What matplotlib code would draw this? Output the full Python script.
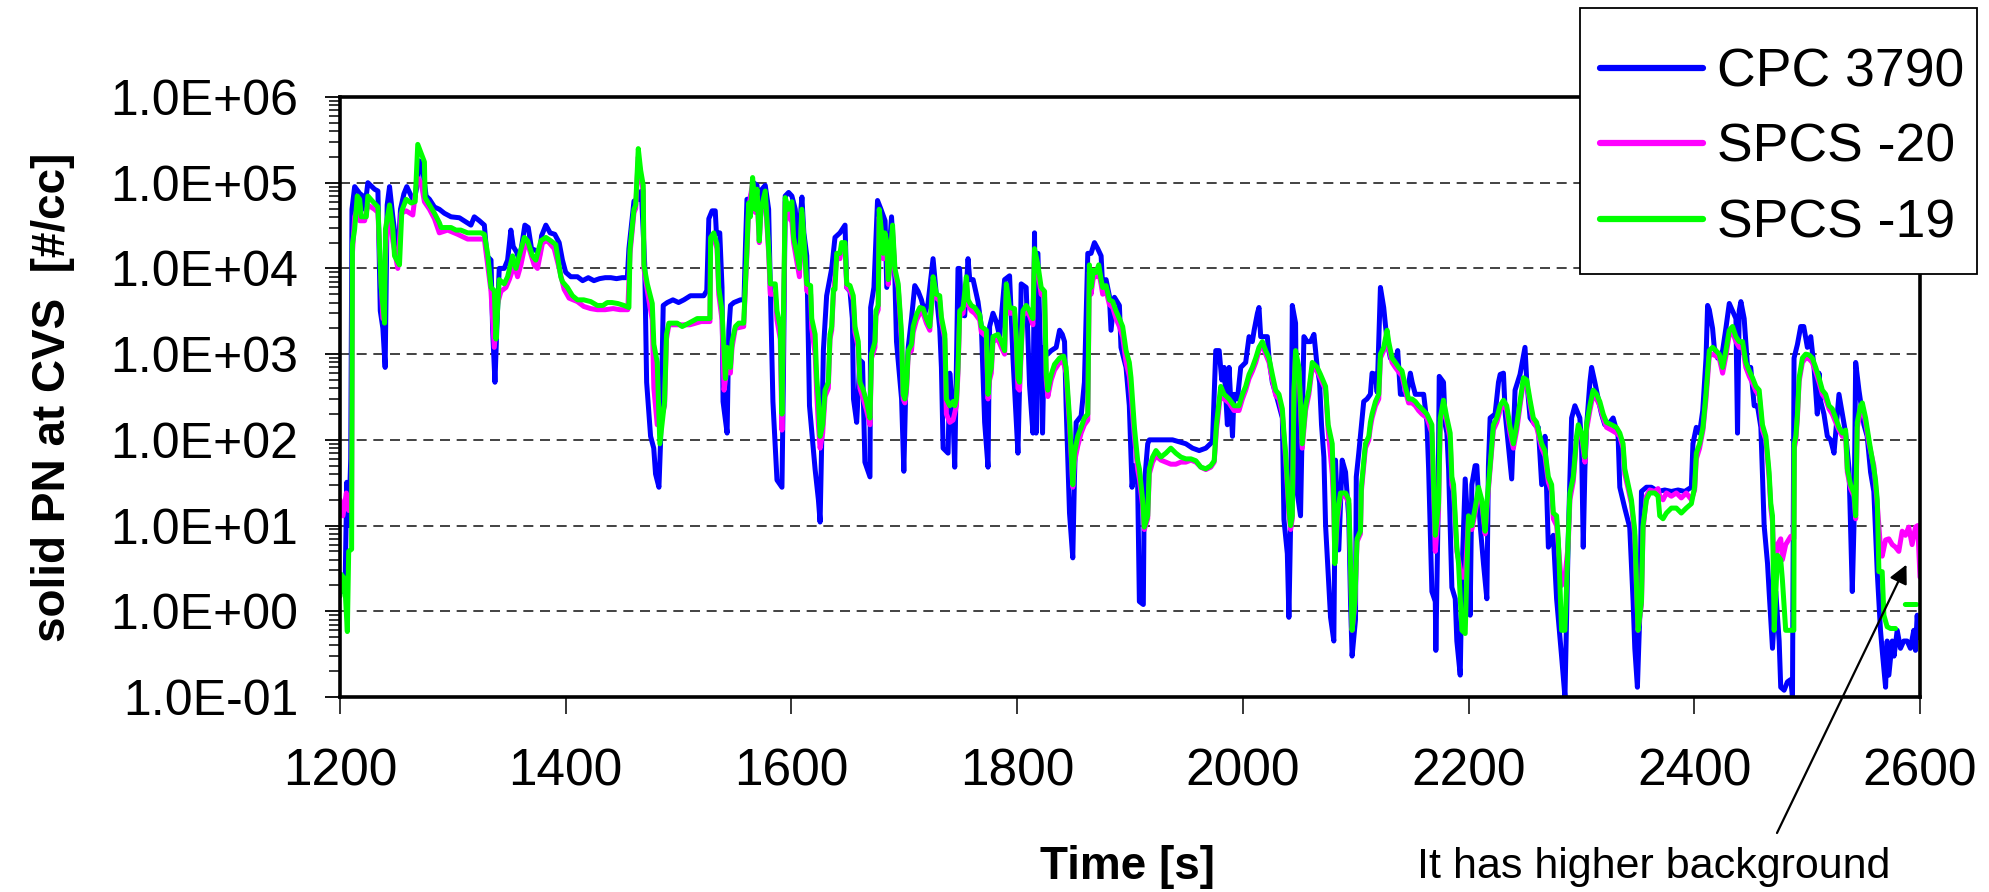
import numpy as np
import matplotlib
matplotlib.use("Agg")
import matplotlib.pyplot as plt
from matplotlib.patches import Rectangle
from matplotlib.lines import Line2D

plt.rcParams['font.family'] = ['Liberation Sans', 'DejaVu Sans']

# ---------------- data ----------------
series_labels = ["CPC 3790", "SPCS -20", "SPCS -19"]
series_colors = ["#0000FF", "#FF00FF", "#00FF00"]
x_ticks = [1200, 1400, 1600, 1800, 2000, 2200, 2400, 2600]
y_ticks = [1e-1, 1e0, 1e1, 1e2, 1e3, 1e4, 1e5, 1e6]

cpc_t = [1200, 1202.6, 1204.7, 1206, 1207.7, 1209.5, 1210.6, 1213, 1217.4, 1220.3, 1221.8, 1224.7, 1230.6, 1233.6,
         1235.7, 1238, 1240, 1241.8, 1243.9, 1246.8, 1249.8, 1251.9, 1253.6, 1256.6, 1259.2, 1262.2, 1265.4, 1268.4,
         1270.4, 1273.4, 1276.3, 1279.3, 1283.7, 1288, 1292.5, 1298.4, 1305.8, 1310, 1316, 1319, 1323.5, 1327.9,
         1330.2, 1333.8, 1335.2, 1337.3, 1339, 1341.1, 1345.5, 1348.5, 1351.4, 1353.5, 1356.5, 1358.8, 1360.9, 1363.8,
         1366.8, 1369.7, 1374.4, 1376.8, 1378.6, 1382.4, 1386.2, 1390.3, 1394.2, 1397.1, 1400, 1404.5, 1410.4,
         1415, 1420, 1425, 1430, 1435, 1440, 1445, 1450, 1454.6, 1456, 1460.5, 1465, 1467, 1470, 1471.7, 1475.2,
         1478, 1479.6, 1482.6, 1484, 1486.4, 1490, 1495, 1500, 1504.7, 1510.5, 1522.3, 1525, 1526.8, 1529.7, 1532.5,
         1533.5, 1536.5, 1538.5, 1539.4, 1543, 1544.5, 1546, 1549, 1554.8, 1558, 1559.2, 1560.6, 1563.6, 1566.5,
         1569.5, 1572.4, 1573.9, 1576.8, 1579.8, 1581.3, 1583.6, 1587.2, 1590.1, 1591.6, 1593, 1594.5, 1597.5,
         1600.4, 1603.4, 1605.5, 1609.3, 1611, 1613.6, 1616, 1621, 1623.9, 1625.4, 1626.8, 1628.3, 1631.2, 1635.7,
         1638.6, 1643, 1647.5, 1649, 1651.9, 1654, 1655, 1657.8, 1660.7, 1663, 1665.1, 1669.6, 1670.2, 1673.1,
         1676.3, 1679.3, 1683, 1684.5, 1688.7, 1691.7, 1693.1, 1697.6, 1699.6, 1701.1, 1703.5, 1706.4, 1709.3,
         1712.3, 1715.2, 1718.2, 1721, 1725.5, 1728.5, 1731.4, 1732.9, 1734.4, 1738.8, 1740.3, 1743.2, 1744.7,
         1747.6, 1749, 1750.6, 1753.5, 1756.5, 1758, 1761, 1765.3, 1768.3, 1771.2, 1774.2, 1775.6, 1778.6, 1781.5,
         1784.5, 1788.9, 1793.3, 1796.3, 1800.7, 1802.1, 1803.6, 1808, 1811, 1814, 1815.4, 1816.8, 1818.4, 1820.5,
         1822.5, 1824, 1827, 1830.2, 1834.6, 1837.6, 1840, 1842, 1843.4, 1846.4, 1849.3, 1850.8, 1852.3, 1856.7,
         1859.6, 1862.6, 1865.5, 1868.5, 1871.4, 1874.4, 1875.8, 1878.8, 1881.7, 1883.2, 1886.2, 1890.6, 1892,
         1896.5, 1899.4, 1901.8, 1903.9, 1906.8, 1908.3, 1911.8, 1912.7, 1915.7, 1917.1, 1923, 1931.8, 1937.7,
         1943.6, 1949.5, 1955.4, 1961.3, 1967.2, 1973.1, 1976, 1979, 1981.3, 1983.4, 1986.3, 1987.8, 1990.8, 1992.2,
         1995.2, 1998.1, 2002.5, 2005.5, 2008.4, 2010, 2012.9, 2014.3, 2015.8, 2021.7, 2023.2, 2026.1, 2030.5, 2035,
         2036.4, 2039.4, 2040.8, 2042.3, 2043.8, 2046.7, 2048.2, 2051.1, 2054.1, 2057, 2060, 2063, 2065.9, 2068,
         2069.7, 2071.8, 2073.3, 2077.7, 2080.6, 2082.1, 2085, 2088, 2091, 2093.9, 2095.4, 2096.8, 2099.8, 2100.5,
         2102.7, 2107.1, 2110, 2113, 2114.5, 2117.5, 2119, 2121.9, 2124.8, 2127.8, 2130.7, 2135.1, 2137.2, 2139.6,
         2145.4, 2148.4, 2150, 2152.8, 2160.2, 2163.1, 2164.6, 2167.5, 2170.5, 2171, 2172.8, 2174, 2177.8, 2179.3,
         2180.8, 2182.3, 2185.2, 2188.2, 2189.6, 2192.6, 2194.1, 2197, 2199.9, 2201.4, 2202.9, 2205.8, 2207.3,
         2210.3, 2213.2, 2216.2, 2217.6, 2219.1, 2223.5, 2226.5, 2228, 2230.9, 2232.5, 2238.2, 2241.2, 2245.6, 2250,
         2251.5, 2254.5, 2258.9, 2261.8, 2264.8, 2267.7, 2270.7, 2275.1, 2278, 2282.4, 2285.4, 2288.3, 2291.3,
         2294.2, 2298.6, 2300.1, 2301.6, 2303.1, 2304.5, 2307.5, 2309, 2311.9, 2314.9, 2317.8, 2320.7, 2325.2,
         2328.1, 2332.5, 2334, 2338.4, 2342.8, 2345.8, 2347.3, 2349.6, 2351.7, 2353.2, 2357.6, 2362, 2367.9, 2373.8,
         2379.7, 2385.6, 2391.5, 2397.4, 2398.8, 2401.8, 2404.7, 2407.5, 2410.4, 2411.8, 2413.3, 2416.2, 2417.7,
         2420.7, 2422, 2425.1, 2428, 2431, 2433.9, 2436.9, 2438.3, 2439.8, 2441.3, 2444.2, 2447.2, 2450, 2453.1,
         2456, 2459, 2461.9, 2464.9, 2466.3, 2469.3, 2472.2, 2475.2, 2476.6, 2479.6, 2482.5, 2485.5, 2487, 2488.4,
         2491.4, 2494.3, 2497, 2500.2, 2503.2, 2506.1, 2509, 2510.5, 2512, 2514.9, 2517.9, 2520.8, 2523.8, 2528.2,
         2531.2, 2534.1, 2537.1, 2540, 2541.5, 2543, 2545.9, 2550.3, 2553.2, 2556.2, 2559.1, 2562.1, 2565, 2566.5,
         2569.5, 2570.9, 2572.4, 2575.4, 2577, 2579.8, 2582.7, 2585.6, 2588.6, 2591.5, 2594.5, 2596, 2597.5, 2599,
         2600]
cpc_v = [2.7, 1.7, 2.8, 32, 10, 60, 4.9e4, 9e4, 7.5e4, 7e4, 4.9e4, 1e5, 8.4e4, 8e4,
         3.2e3, 2e3, 7e2, 5.5e4, 9e4, 4e4, 1.9e4, 1.8e4, 4.9e4, 7.4e4, 9e4, 7.4e4, 6e4, 9.3e4,
         1.8e5, 1.4e5, 7e4, 6.4e4, 5.2e4, 4.9e4, 4.4e4, 4e4, 3.9e4, 3.6e4, 3.2e4, 4e4, 3.6e4, 3.2e4,
         1.4e4, 1.25e4, 2e3, 4.7e2, 2.1e3, 1e4, 1e4, 1.25e4, 2.8e4, 1.8e4, 1.55e4, 1.25e4, 1.8e4, 3.2e4,
         3e4, 1.7e4, 1.6e4, 1.4e4, 2.4e4, 3.2e4, 2.6e4, 2.5e4, 2e4, 1.25e4, 9e3, 8e3, 8e3,
         7.2e3, 7.8e3, 7.2e3, 7.6e3, 7.8e3, 7.8e3, 7.6e3, 7.8e3, 7.8e3, 1.7e4, 6.1e4, 6.5e4, 8e4, 1.1e4, 4.7e2, 1.1e2,
         80, 40, 28, 90, 3.7e3, 4e3, 4.3e3, 4e3, 4.3e3, 4.8e3, 4.8e3, 5.5e3, 3.8e4, 4.7e4, 4.7e4,
         2.6e4, 2.6e4, 6e3, 2.8e2, 1.2e2, 1.9e3, 3.7e3, 4e3, 4.3e3, 4.3e3, 1.7e4, 6.4e4, 6.5e4, 1e5,
         9.3e4, 3.6e4, 8.4e4, 9.3e4, 4.9e4, 6e3, 2.8e2, 34, 30, 28, 7e2, 7e4, 7.7e4,
         7e4, 4.9e4, 1.7e4, 6.8e4, 2.6e4, 1.4e4, 2.5e2, 45, 20, 11, 90, 1.1e3, 4.8e3, 1e4,
         2.3e4, 2.6e4, 3.2e4, 6e3, 5.4e3, 2.6e3, 3e2, 1.6e2, 8.5e2, 8e2, 55, 37, 3.5e3, 6e3,
         6.2e4, 4.9e4, 3.6e4, 6e3, 4e4, 7.4e3, 1.4e3, 3e2, 43, 3e2, 1.2e3, 2.6e3, 6.3e3,
         5.4e3, 4.3e3, 3e3, 3.9e3, 1.3e4, 4.8e3, 2e3, 7e2, 80, 70, 6e2, 1.8e2, 48,
         1e4, 1e4, 2.9e3, 2.8e3, 1.3e4, 7.4e3, 7.4e3, 4.1e3, 2.1e3, 1.6e2, 48, 2.1e3, 3e3, 2.4e3,
         1.6e3, 7.4e3, 8.2e3, 9e2, 70, 4e2, 6.6e3, 6e3, 4.3e2, 1.2e2, 2.6e4, 1.2e2, 1.5e4, 1.2e3,
         1.2e2, 1.2e3, 1e3, 1.1e3, 1.2e3, 1.9e3, 1.7e3, 1.4e3, 2.5e2, 14, 4.2, 37, 1.6e2, 1.9e2,
         4.7e2, 1.5e4, 1.5e4, 2e4, 1.7e4, 1.4e4, 6e3, 7.4e3, 4.8e3, 1.9e3, 4.6e3, 3.7e3, 1.2e3,
         7e2, 2.5e2, 28, 50, 30, 1.3, 1.2, 30, 90, 1e2, 1e2, 1e2, 1e2,
         95, 90, 80, 75, 80, 95, 1.1e3, 1.1e3, 5e2, 7e2, 1.5e2, 7e2, 1.1e2, 3.4e2,
         3e2, 7e2, 8e2, 1.6e3, 1.4e3, 1.9e3, 3e3, 3.5e3, 1.6e3, 1.6e3, 9e2, 4.7e2, 3e2, 1.8e2,
         11.8, 4.7, 0.85, 10, 3.7e3, 2.3e3, 24, 13, 1.6e3, 1.4e3, 1.4e3, 1.7e3, 7e2, 4.7e2,
         1.5e2, 63, 10, 0.85, 0.45, 58, 5.2, 58, 42, 12, 1.3, 0.3, 0.8, 37,
         70, 2.8e2, 3e2, 3.4e2, 6e2, 5.8e2, 3.6e2, 6e3, 3.5e3, 1.4e3, 9e2, 8e2, 1.1e3, 3.4e2,
         3.4e2, 6e2, 4.7e2, 3.4e2, 3.4e2, 1.6e2, 46, 1.7, 1.3, 0.35, 10, 5.5e2, 4.7e2, 1.5e2,
         1.2e2, 46, 1.9, 1.4, 0.45, 0.18, 2.5, 35, 7.7, 0.9, 30, 50, 50,
         10, 3.6, 1.4, 50, 1.8e2, 2e2, 4.7e2, 5.8e2, 6e2, 2e2, 35, 3.8e2, 5.8e2, 1.2e3,
         5e2, 1.8e2, 1.5e2, 1.4e2, 30, 1.1e2, 5.6, 7.7, 1.4, 0.3, 0.1, 7, 1.8e2,
         2.5e2, 1.8e2, 90, 5.6, 46, 1.4e2, 4.7e2, 7e2, 4.7e2, 3e2, 2e2, 1.5e2, 1.6e2,
         1.8e2, 1.1e2, 28, 16, 9.5, 1.3, 0.37, 0.13, 0.9, 25, 28, 28, 25, 26,
         25, 26, 25, 28, 90, 1.4e2, 1.2e2, 2.2e2, 9e2, 3.7e3, 3.3e3, 2e3, 1.2e3,
         9e2, 9e2, 1.1e3, 2e3, 3.9e3, 3.2e3, 2.6e3, 1.2e2, 3.2e3, 4.1e3, 2.6e3, 7e2, 7e2, 2.5e2,
         2.5e2, 1.4e2, 10, 3.6, 1.7, 0.37, 1.7, 0.45, 0.13, 0.12, 0.15, 0.16, 0.1, 9e2,
         1.3e3, 2.1e3, 2.1e3, 1.2e3, 1.6e3, 7e2, 2e2, 6e2, 2.8e2, 2e2, 1.1e2, 1e2, 70, 3.4e2,
         2e2, 1.2e2, 46, 1.7, 10, 8e2, 3.8e2, 1.5e2, 1.1e2, 42, 25, 2.9, 0.6, 0.35,
         0.13, 0.45, 0.18, 0.45, 0.3, 0.6, 0.37, 0.45, 0.45, 0.37, 0.6, 0.35, 0.9, 0.5,
         0.6]

s20_t = [1200, 1202.6, 1205.6, 1207.7, 1210.3, 1211, 1213, 1215.3, 1217.4, 1221.8, 1224.7, 1230.6, 1233.6, 1235,
         1238, 1241, 1243.9, 1246.8, 1251.2, 1254.2, 1258.6, 1264.5, 1268.4, 1271.9, 1274.8, 1279.3, 1283.7, 1288,
         1295.4, 1304.3, 1313.1, 1322, 1327.9, 1330.8, 1333.8, 1336.7, 1339.7, 1342.6, 1347, 1350, 1354.4, 1357.3,
         1360.3, 1364.7, 1367.6, 1372, 1375, 1379.5, 1383.9, 1389.8, 1394.2, 1398.6, 1403, 1410.4, 1416, 1422, 1428,
         1435, 1442, 1448, 1455, 1457, 1460.5, 1462, 1464.3, 1466.4, 1468.7, 1469.3, 1472.3, 1476.7, 1478.1, 1481.1,
         1483.4, 1485.5, 1487.6, 1489.3, 1491.4, 1500, 1510, 1520, 1527.8, 1528.4, 1531.2, 1534.1, 1535.6, 1538.5,
         1540.3, 1543, 1545.9, 1547.4, 1550.3, 1557.7, 1560.6, 1562.1, 1565.6, 1568, 1569.5, 1571.5, 1573, 1576.8,
         1579.8, 1581.3, 1585.7, 1587.2, 1590.1, 1591.6, 1594.5, 1597.5, 1600.4, 1601.9, 1604.8, 1607.1, 1609.2,
         1612.1, 1613.6, 1617, 1618, 1621, 1622.4, 1623.9, 1625.4, 1627.7, 1629.8, 1632.7, 1634.2, 1635.7, 1637.2,
         1640.1, 1643, 1644.5, 1647.5, 1649, 1651.9, 1654.8, 1656.3, 1659.2, 1660.7, 1663.7, 1666.6, 1669.6, 1671,
         1674, 1674.9, 1676.9, 1677.8, 1679.9, 1681.3, 1682.8, 1684.3, 1685.8, 1687.2, 1689.6, 1691.7, 1694.6,
         1697.6, 1699, 1700.5, 1702, 1703.5, 1706.4, 1707.9, 1710.8, 1713.8, 1716.7, 1719.6, 1722.6, 1724.1, 1725.5,
         1728.5, 1731.4, 1732.9, 1735.9, 1737.3, 1740.3, 1743.2, 1746.2, 1747.6, 1749.1, 1752.1, 1755, 1756.5,
         1759.4, 1762.4, 1766.8, 1768.3, 1772.7, 1774.2, 1775.6, 1777.1, 1778.6, 1783, 1786, 1788.9, 1790.4, 1793.3,
         1797.7, 1799.2, 1800.7, 1802.1, 1805.1, 1808, 1811, 1814, 1815.4, 1818.4, 1821.3, 1824.3, 1825.8, 1827.2,
         1830.2, 1833.1, 1837.6, 1841.1, 1843.4, 1846.4, 1849.3, 1850.8, 1853.7, 1856.7, 1859.6, 1862.6, 1864,
         1865.5, 1867.6, 1870, 1872.3, 1874.4, 1875.8, 1878.8, 1881.7, 1884.7, 1887.6, 1890.6, 1893.5, 1896.5,
         1899.4, 1900.9, 1903.9, 1906.8, 1908.3, 1911.2, 1912.7, 1915.7, 1917.1, 1920, 1923, 1927.4, 1931.8, 1936.2,
         1940.6, 1945.1, 1949.5, 1954, 1958.4, 1962.8, 1967.2, 1971.6, 1974.6, 1976.6, 1980.4, 1983.4, 1987.8,
         1992.2, 1996.6, 1999.6, 2002.5, 2005.5, 2008.4, 2011.4, 2014.3, 2017.3, 2020.2, 2023.2, 2026.1, 2029.1,
         2032, 2035, 2036.4, 2037.9, 2040.8, 2042.3, 2043.8, 2045.3, 2046.7, 2049.7, 2052.6, 2055.6, 2058.5, 2061.5,
         2065.9, 2068.8, 2073.3, 2075.6, 2079.2, 2080.6, 2081.5, 2083.6, 2086.5, 2091, 2093.9, 2095.4, 2096.8,
         2099.2, 2101.2, 2104.2, 2105, 2108.6, 2111.6, 2113, 2114.5, 2117.5, 2120.4, 2121.9, 2124.8, 2127.8, 2129.2,
         2132.2, 2135.1, 2138.1, 2141, 2144, 2146.9, 2149.9, 2152.8, 2155.7, 2158.7, 2163.1, 2167.5, 2169, 2170.5,
         2173.4, 2174.9, 2177.8, 2180.8, 2183.7, 2185.2, 2186.7, 2189.6, 2191.1, 2194.1, 2197, 2199.9, 2202.9,
         2205.8, 2208.8, 2211.7, 2214.7, 2216.2, 2219.1, 2222, 2225, 2227.9, 2230.9, 2233.8, 2236.8, 2239.7, 2242.7,
         2245.6, 2248.6, 2251.5, 2254.5, 2257.4, 2260.3, 2264.8, 2267.7, 2270.7, 2273.6, 2275.1, 2278, 2279.5,
         2282.4, 2285.4, 2288.3, 2289.8, 2292.8, 2295.7, 2297.2, 2300.1, 2303.1, 2304.5, 2307.5, 2310.4, 2313.4,
         2316.3, 2319.3, 2322.2, 2326.6, 2331, 2334, 2336.9, 2338.4, 2341.4, 2344.3, 2347.3, 2348.7, 2350.2, 2353.2,
         2354.6, 2357.6, 2360.5, 2365, 2367.9, 2369.4, 2372.3, 2375.3, 2379.7, 2384.1, 2388.5, 2392.9, 2397.4,
         2400.3, 2401.8, 2404.7, 2407.7, 2410.4, 2413.3, 2416.2, 2419.2, 2422.1, 2425.1, 2428, 2431, 2433.9, 2436.9,
         2439.8, 2442.8, 2445.7, 2448.7, 2451.6, 2454.6, 2457.5, 2460.4, 2463.4, 2466.3, 2467.8, 2469.3, 2470.8,
         2473.7, 2476.6, 2478.1, 2481, 2485.5, 2488.2, 2488.6, 2490, 2491.4, 2492.9, 2495.8, 2498.7, 2501.7, 2504.6,
         2507.6, 2510.5, 2513.5, 2516.4, 2519.4, 2522.3, 2525.3, 2528.2, 2531.2, 2534.1, 2535.6, 2538.5, 2541.5,
         2543, 2544.4, 2547.4, 2548.9, 2551.8, 2554.8, 2559.1, 2560.6, 2562.1, 2565, 2566.5, 2569.5, 2572.4, 2575.4,
         2578.3, 2581.2, 2584.2, 2587.1, 2590, 2593, 2596, 2598, 2600]
s20_v = [20, 13, 24, 15, 20, 1.5e4, 4e4, 5e4, 3.6e4, 3.6e4, 5.5e4, 4.9e4, 4.5e4, 1.7e4,
         2.6e3, 2.1e4, 4.9e4, 2.1e4, 1e4, 4.4e4, 4.7e4, 4.2e4, 1.15e5, 1e5, 6e4, 4.9e4, 3.8e4, 2.6e4,
         2.8e4, 2.5e4, 2.2e4, 2.2e4, 2.2e4, 1.1e4, 5.4e3, 1.2e3, 3.9e3, 5.4e3, 6e3, 7.4e3, 1.1e4, 8e3,
         1.1e4, 2.1e4, 1.7e4, 1.1e4, 1e4, 2e4, 2.1e4, 1.7e4, 1e4, 5.7e3, 4.5e3, 4.1e3, 3.6e3, 3.4e3, 3.3e3,
         3.3e3, 3.4e3, 3.3e3, 3.3e3, 1.5e4, 4.5e4, 5e4, 2e5, 1.2e5, 8e4, 1e4, 5.5e3, 2.5e3, 4e2, 1.5e2,
         1.5e2, 2e2, 2.5e2, 1.5e3, 2.2e3, 2.2e3, 2.2e3, 2.4e3, 2.4e3, 2.1e4, 2.3e4, 1.7e4, 5e3, 2.5e3,
         3.8e2, 7e2, 6e2, 1.2e3, 2e3, 2.1e3, 1.5e4, 5e4, 1e5, 4.5e4, 7e4, 2e4, 4.5e4, 7e4,
         1.5e4, 5e3, 5e3, 2.5e3, 1.5e3, 1.3e2, 6e4, 4e4, 3.5e4, 2e4, 1.2e4, 8e3, 4.5e4,
         1.2e4, 5.5e3, 5e3, 2e3, 1e3, 3.5e2, 1.5e2, 80, 1.2e2, 3.2e2, 4e2, 1.5e3, 1.9e3, 5e3,
         1.3e4, 1.3e4, 1.8e4, 1.8e4, 6e3, 5.5e3, 4.3e3, 1.8e3, 1.2e3, 4e2, 3e2, 2.2e2, 1.5e2, 9e2,
         1.2e3, 2.8e3, 3.3e3, 4e4, 1.7e4, 1.3e4, 2.3e4, 1.9e4, 6.5e3, 1e4, 2.8e4, 9e3, 6e3,
         1.5e3, 3e2, 2.7e2, 3.8e2, 1e3, 1.1e3, 1.8e3, 2.5e3, 3e3, 3e3, 2.3e3, 1.9e3, 3.5e3, 7e3,
         4.5e3, 4.2e3, 2.4e3, 1.5e3, 2e2, 1.6e2, 1.7e2, 2.5e2, 6e2, 2.8e3, 3e3, 7e3, 3.8e3,
         3.2e3, 3e3, 2.5e3, 1.8e3, 1.6e3, 3e2, 5e2, 6e2, 1.4e3, 1.5e3, 1.2e3, 1e3, 5.5e3, 3e3,
         3e3, 1.4e3, 4e2, 3.8e2, 2.8e3, 3.2e3, 2.8e3, 2.2e3, 1.5e4, 9e3, 5e3, 4.6e3, 5e2, 3.2e2,
         5e2, 6.5e2, 8e2, 8e2, 6e2, 1.5e2, 28, 55, 85, 1.2e2, 1.5e2, 1.7e2, 9e3,
         5e3, 8e3, 8e3, 9e3, 6.5e3, 5e3, 5.5e3, 3.8e3, 3.5e3, 2.6e3, 2.1e3, 1.6e3, 8e2,
         5.5e2, 3.5e2, 1.1e2, 45, 35, 17, 9, 12, 40, 55, 65, 58, 55, 52,
         52, 55, 55, 58, 55, 48, 45, 48, 55, 1.3e2, 3.6e2, 3e2, 2.7e2,
         2.2e2, 2.2e2, 3e2, 3.8e2, 5.2e2, 6.3e2, 8e2, 1.1e3, 1.3e3, 1e3, 8e2, 5e2, 3.3e2,
         3e2, 2e2, 1.1e2, 60, 14, 9, 12, 3.4e2, 1e3, 6.2e2, 80, 2.2e2, 3.4e2, 7e2,
         6.3e2, 5.2e2, 3.8e2, 1.3e2, 40, 15, 4, 11, 22, 22, 18, 3.4, 0.6,
         1.2, 6.5, 8, 25, 80, 1e2, 1.4e2, 1.8e2, 2.5e2, 3e2, 9e2, 1.1e3, 1.7e3, 1.2e3,
         8e2, 7e2, 6.2e2, 5.6e2, 3.7e2, 2.7e2, 2.7e2, 2.5e2, 2.2e2, 2e2, 1.8e2, 1.2e2, 25, 5,
         15, 1.6e2, 2.6e2, 1.6e2, 1e2, 30, 25, 5, 4, 2.5, 2.5, 12, 9,
         14, 25, 18, 8, 16, 45, 1.3e2, 1.6e2, 2.2e2, 2.6e2, 2.2e2, 1.2e2, 80, 1.3e2,
         2.5e2, 4.7e2, 4.5e2, 2.6e2, 1.6e2, 1.4e2, 80, 65, 32, 25, 12, 10, 6,
         2, 2.5, 6, 20, 33, 1e2, 1.3e2, 1.1e2, 55, 1.3e2, 2.2e2, 3.4e2, 3e2,
         2.5e2, 1.8e2, 1.4e2, 1.3e2, 1.2e2, 1.1e2, 80, 40, 27, 18, 7.5, 2, 0.6, 1.2,
         9, 22, 26, 25, 27, 22, 20, 24, 22, 24, 21, 24, 20,
         26, 60, 80, 1.3e2, 3e2, 9.5e2, 1e3, 9.5e2, 9e2, 6e2, 9.5e2, 1.7e3, 1.8e3, 1.4e3,
         1.2e3, 1.2e3, 7e2, 5.5e2, 4.6e2, 3.7e2, 3.3e2, 1.3e2, 1e2, 36, 16, 11, 3,
         6, 7, 4, 6, 7.5, 7, 80, 1e2, 1.8e2, 4.8e2, 8e2, 9e2, 8.8e2, 8e2,
         6.2e2, 4.7e2, 3.4e2, 3e2, 2.3e2, 2e2, 1.6e2, 1.3e2, 1.1e2, 1.1e2, 42, 27, 22,
         12, 1.4e2, 2.2e2, 2.4e2, 1.6e2, 90, 50, 30, 18, 5.5, 4.4, 6.8, 7, 6,
         5.6, 5, 8.6, 7.7, 9.6, 6, 9.6, 10, 2.5]

s19_t = [1200, 1201, 1204, 1206.5, 1207.7, 1210.3, 1211, 1213, 1215.3, 1217.4, 1218.9, 1223.3, 1224.7, 1229.2,
         1233.6, 1236.5, 1239.5, 1240.3, 1243.9, 1246.8, 1248.3, 1252.7, 1254.8, 1258.6, 1263.1, 1266.6, 1268.9,
         1271.9, 1274.8, 1275.4, 1279.3, 1283.7, 1288.1, 1289.6, 1294, 1298.4, 1302.8, 1307, 1313.1, 1319, 1324.9,
         1327.9, 1330.8, 1333.8, 1336.7, 1338.2, 1341.1, 1345.5, 1348.5, 1352.9, 1355.9, 1358.8, 1363.3, 1366.2,
         1370.6, 1373.5, 1378, 1382.4, 1386.8, 1391.2, 1395.6, 1397.1, 1401.5, 1406, 1410.4, 1416, 1422.2, 1428,
         1433, 1436.9, 1441, 1446, 1451.6, 1456, 1457, 1460.5, 1462, 1464.3, 1466.4, 1468.7, 1469.3, 1472.3,
         1476.7, 1478.1, 1481.1, 1483.4, 1485.5, 1487.6, 1489.3, 1491.4, 1498.8, 1503.2, 1509.1, 1516.5, 1522.3,
         1527.8, 1528.4, 1531.2, 1534.1, 1535.6, 1538.5, 1541.5, 1543, 1545.9, 1547.4, 1550.3, 1553.3, 1557.7,
         1560.6, 1562.1, 1563.6, 1565.6, 1568, 1569.5, 1571.5, 1573, 1576.8, 1579.8, 1581.3, 1585.7, 1587.2,
         1590.1, 1591.6, 1594.5, 1597.5, 1600.4, 1601.9, 1604.8, 1607.1, 1609.2, 1612.1, 1613.6, 1617, 1618, 1621,
         1622.4, 1623.9, 1625.4, 1627.7, 1629.8, 1632.7, 1634.2, 1635.7, 1637.2, 1638.6, 1640.1, 1643, 1644.5,
         1647.5, 1649, 1651.9, 1654.8, 1656.3, 1659.2, 1660.7, 1663.7, 1666.6, 1669.6, 1671, 1674, 1674.9, 1676.9,
         1677.8, 1679.9, 1681.3, 1682.8, 1684.3, 1685.8, 1687.2, 1689.6, 1691.7, 1694.6, 1697.6, 1699, 1700.5,
         1702, 1703.5, 1706.4, 1707.9, 1710.8, 1713.8, 1716.7, 1719.6, 1722.6, 1724.1, 1725.5, 1728.5, 1731.4,
         1732.9, 1735.9, 1737.3, 1740.3, 1743.2, 1744.7, 1746.2, 1747.6, 1749.1, 1752.1, 1755, 1756.5, 1759.4,
         1762.4, 1766.8, 1768.3, 1772.7, 1774.2, 1775.6, 1777.1, 1778.6, 1783, 1786, 1788.9, 1790.4, 1793.3,
         1797.7, 1799.2, 1800.7, 1802.1, 1805.1, 1808, 1811, 1814, 1815.4, 1818.4, 1821.3, 1824.3, 1825.8, 1827.2,
         1830.2, 1833.1, 1837.6, 1841.1, 1843.4, 1846.4, 1849.3, 1850.8, 1853.7, 1856.7, 1859.6, 1862.6, 1864,
         1865.5, 1867.6, 1870, 1872.3, 1874.4, 1875.8, 1878.8, 1881.7, 1884.7, 1887.6, 1890.6, 1893.5, 1896.5,
         1899.4, 1900.9, 1903.9, 1906.8, 1908.3, 1911.2, 1912.7, 1915.7, 1917.1, 1920, 1923, 1927.4, 1931.8, 1936.2,
         1940.6, 1945.1, 1949.5, 1954, 1958.4, 1962.8, 1967.2, 1971.6, 1974.6, 1976.6, 1980.4, 1983.4, 1987.8,
         1992.2, 1996.6, 1999.6, 2002.5, 2005.5, 2008.4, 2011.4, 2014.3, 2017.3, 2020.2, 2023.2, 2026.1, 2029.1,
         2032, 2035, 2036.4, 2037.9, 2040.8, 2042.3, 2043.8, 2045.3, 2046.7, 2049.7, 2052.6, 2055.6, 2058.5, 2061.5,
         2065.9, 2068.8, 2073.3, 2075.6, 2079.2, 2080.6, 2081.5, 2083.6, 2086.5, 2091, 2093.9, 2095.4, 2096.8,
         2099.2, 2101.2, 2104.2, 2105, 2108.6, 2111.6, 2113, 2114.5, 2117.5, 2120.4, 2121.9, 2124.8, 2127.8, 2129.2,
         2132.2, 2135.1, 2138.1, 2141, 2144, 2146.9, 2149.9, 2152.8, 2155.7, 2158.7, 2163.1, 2167.5, 2169, 2170.5,
         2173.4, 2174.9, 2177.8, 2180.8, 2183.7, 2185.2, 2186.7, 2189.6, 2191.1, 2194.1, 2197, 2199.9, 2202.9,
         2205.8, 2208.8, 2211.7, 2214.7, 2216.2, 2219.1, 2222, 2225, 2227.9, 2230.9, 2233.8, 2236.8, 2239.7, 2242.7,
         2245.6, 2248.6, 2251.5, 2254.5, 2257.4, 2260.3, 2264.8, 2267.7, 2270.7, 2273.6, 2275.1, 2278, 2279.5,
         2282.4, 2285.4, 2288.3, 2289.8, 2292.8, 2295.7, 2297.2, 2300.1, 2303.1, 2304.5, 2307.5, 2310.4, 2313.4,
         2316.3, 2319.3, 2322.2, 2326.6, 2331, 2334, 2336.9, 2338.4, 2341.4, 2344.3, 2347.3, 2348.7, 2350.2, 2353.2,
         2354.6, 2357.6, 2360.5, 2365, 2367.9, 2369.4, 2372.3, 2375.3, 2379.7, 2384.1, 2388.5, 2392.9, 2397.4,
         2400.3, 2401.8, 2404.7, 2407.7, 2410.4, 2413.3, 2416.2, 2419.2, 2422.1, 2425.1, 2428, 2431, 2433.9, 2436.9,
         2439.8, 2442.8, 2445.7, 2448.7, 2451.6, 2454.6, 2457.5, 2460.4, 2463.4, 2466.3, 2467.8, 2469.3, 2470.8,
         2473.7, 2476.6, 2478.1, 2481, 2485.5, 2488.2, 2488.6, 2490, 2491.4, 2492.9, 2495.8, 2498.7, 2501.7, 2504.6,
         2507.6, 2510.5, 2513.5, 2516.4, 2519.4, 2522.3, 2525.3, 2528.2, 2531.2, 2534.1, 2535.6, 2538.5, 2541.5,
         2543, 2544.4, 2547.4, 2548.9, 2551.8, 2554.8, 2559.1, 2560.6, 2562.1, 2563.6, 2566.5, 2568, 2570.9, 2573.9,
         2578.3, 2582, 2587, 2597]
s19_v = [1.5, 2.7, 2.4, 0.58, 5, 5.3, 1.9e4, 2.9e4, 7e4, 6.4e4, 4e4, 4e4, 7e4, 6e4,
         5.2e4, 6e3, 2.3e3, 2.9e4, 5.5e4, 2.9e4, 1.4e4, 1.1e4, 4.7e4, 6.4e4, 5.8e4, 6e4, 2.8e5,
         2.2e5, 1.75e5, 6.7e4, 5.5e4, 4.4e4, 3.4e4, 3e4, 3e4, 3e4, 2.8e4, 2.8e4, 2.6e4, 2.6e4, 2.6e4,
         2.5e4, 1.5e4, 6e3, 5.5e3, 1.5e3, 7.4e3, 6.6e3, 8e3, 1.4e4, 1e4, 1.4e4, 2.3e4, 2.1e4,
         1.4e4, 1.25e4, 2.1e4, 2.3e4, 2.1e4, 1.9e4, 8e3, 7e3, 6e3, 4.8e3, 4.3e3, 4.3e3, 4.1e3, 3.7e3,
         3.7e3, 4e3, 4e3, 3.9e3, 3.7e3, 3.5e3, 1.7e4, 4.9e4, 5.5e4, 2.5e5, 1.4e5, 9.3e4, 1.1e4, 6.6e3,
         3.9e3, 1.3e3, 8e2, 90, 1.6e2, 2.8e2, 1.7e3, 2.3e3, 2.3e3, 2.1e3, 2.3e3, 2.6e3, 2.6e3,
         2.6e3, 2.3e4, 2.6e4, 1.9e4, 6e3, 3.2e3, 5.2e2, 1.2e3, 7e2, 1.4e3, 2.1e3, 2.3e3, 2.3e3,
         1.7e4, 5.8e4, 4e4, 1.15e5, 4.9e4, 8.4e4, 2.1e4, 4.9e4, 8e4, 1.7e4, 6.6e3, 6.6e3, 3.2e3,
         2.1e3, 2e2, 6.7e4, 4.9e4, 6e4, 2.3e4, 1.5e4, 1e4, 4.9e4, 1.4e4, 6.6e3, 6.3e3, 2.6e3, 1.7e3,
         5.3e2, 3e2, 1.1e2, 1.5e2, 3.8e2, 4.7e2, 1.7e3, 2.1e3, 5.7e3, 5.7e3, 1.5e4, 1.5e4, 2e4,
         2e4, 6.6e3, 6.3e3, 4.8e3, 2.1e3, 1.4e3, 4.7e2, 3.8e2, 2.8e2, 1.8e2, 1e3, 1.4e3, 3.2e3, 3.7e3,
         4.9e4, 2.6e4, 1.5e4, 2.6e4, 2.1e4, 7.4e3, 1.1e4, 3.2e4, 1e4, 6.6e3, 1.7e3, 3.4e2, 3e2,
         4.2e2, 1.1e3, 1.3e3, 2.1e3, 2.9e3, 3.5e3, 3.4e3, 2.6e3, 2.1e3, 3.9e3, 8e3, 5e3, 4.8e3,
         2.7e3, 1.7e3, 3e2, 2.5e2, 2.8e2, 2.5e2, 3e2, 7e2, 3.2e3, 3.5e3, 8e3, 4.3e3, 3.7e3,
         3.5e3, 2.9e3, 2.1e3, 1.9e3, 3.4e2, 5.8e2, 7e2, 1.6e3, 1.7e3, 1.4e3, 1.1e3, 6.6e3, 3.5e3,
         3.4e3, 1.6e3, 5.3e2, 4.7e2, 3.2e3, 3.7e3, 3.2e3, 2.6e3, 1.7e4, 1.1e4, 6e3, 5.4e3, 5.8e2, 3.8e2,
         5.8e2, 7.6e2, 9e2, 9.5e2, 7e2, 1.8e2, 30, 70, 1.1e2, 1.4e2, 1.8e2, 2e2, 1.1e4,
         6e3, 9.5e3, 9e3, 1.1e4, 7.4e3, 6e3, 6.3e3, 4.3e3, 4.1e3, 3.2e3, 2.6e3, 2.1e3, 1.1e3,
         8e2, 5.3e2, 1.4e2, 57, 46, 20, 9.6, 13, 46, 63, 75, 63, 70, 80,
         70, 63, 60, 60, 57, 48, 46, 50, 57, 1.5e2, 4.2e2, 3.4e2, 3e2,
         2.5e2, 2.5e2, 3.4e2, 4.2e2, 5.8e2, 7e2, 9e2, 1.2e3, 1.4e3, 1.1e3, 9e2, 5.8e2, 3.8e2,
         3.4e2, 2.3e2, 1.2e2, 70, 16, 10, 13, 3.8e2, 1.1e3, 7e2, 90, 2.5e2, 3.8e2, 8e2,
         7e2, 5.8e2, 4.2e2, 1.5e2, 90, 20, 3.6, 13, 24, 24, 20, 3.6, 0.6,
         1.3, 7, 8.6, 28, 90, 1.1e2, 1.6e2, 2e2, 2.8e2, 3.4e2, 1e3, 1.2e3, 1.9e3, 1.4e3,
         9e2, 8e2, 7e2, 6.4e2, 4.2e2, 3e2, 3e2, 2.8e2, 2.5e2, 2.3e2, 2e2, 1.5e2, 30, 7.7,
         18, 1.8e2, 2.9e2, 1.8e2, 1.2e2, 37, 30, 5.6, 3.6, 0.6, 0.55, 13, 10,
         16, 28, 20, 8.6, 18, 50, 1.5e2, 1.8e2, 2.5e2, 2.9e2, 2.5e2, 1.4e2, 90, 1.5e2,
         2.8e2, 5.3e2, 5e2, 2.9e2, 1.8e2, 1.6e2, 90, 75, 37, 30, 14, 13, 7,
         0.6, 0.6, 7, 24, 37, 1.1e2, 1.5e2, 1.2e2, 63, 1.5e2, 2.5e2, 3.8e2, 3.4e2,
         2.8e2, 2e2, 1.6e2, 1.5e2, 1.4e2, 1.2e2, 90, 46, 30, 20, 8.6, 2.2, 0.6, 1.3,
         10, 20, 24, 24, 22, 13, 12, 14, 16, 16, 14, 16, 18,
         28, 70, 90, 1.4e2, 3.5e2, 1.1e3, 1.2e3, 1.1e3, 1e3, 7e2, 1.1e3, 1.9e3, 2.1e3, 1.6e3,
         1.4e3, 1.4e3, 8e2, 6.4e2, 5.3e2, 4.2e2, 3.8e2, 1.5e2, 1.1e2, 42, 18, 13, 0.6,
         4.5, 4, 2.3, 0.6, 0.6, 0.6, 90, 1.1e2, 2e2, 5.3e2, 9e2, 1e3, 9.8e2, 9e2,
         7e2, 5.3e2, 3.8e2, 3.4e2, 2.5e2, 2.3e2, 1.8e2, 1.4e2, 1.2e2, 1.3e2, 46, 30, 24,
         13, 1.6e2, 2.5e2, 2.7e2, 1.8e2, 1e2, 46, 34, 20, 2.9, 2.9, 0.9, 0.66, 0.63,
         0.63, np.nan, 1.2, 1.2]

series_t = [cpc_t, s20_t, s19_t]
series_v = [cpc_v, s20_v, s19_v]

# ---------------- figure ----------------
W, H = 1990, 892
fig = plt.figure(figsize=(W / 100, H / 100), dpi=100)
ax_l, ax_r, ax_top, ax_bot = 340, 1920, 97, 697
ax = fig.add_axes([ax_l / W, 1 - ax_bot / H, (ax_r - ax_l) / W, (ax_bot - ax_top) / H])

for t, v, c, lab in zip(series_t, series_v, series_colors, series_labels):
    ax.plot(t, v, color=c, lw=3.6, label=lab, solid_joinstyle='round', solid_capstyle='round')

ax.set_yscale('log')
ax.set_xlim(1200, 2600)
ax.set_ylim(1e-1, 1e6)
ax.set_xticks(x_ticks)
ax.set_xticklabels([str(v) for v in x_ticks])
ax.set_yticks(y_ticks)
ax.set_yticklabels([f"{v:.1E}" for v in y_ticks])
ax.yaxis.set_minor_locator(matplotlib.ticker.LogLocator(base=10, subs=np.arange(2, 10), numticks=20))
ax.yaxis.set_minor_formatter(matplotlib.ticker.NullFormatter())

ax.yaxis.grid(True, which='major', color='#222222', lw=1.2, linestyle=(0, (6, 4)))
ax.set_axisbelow(True)
for s in ax.spines.values():
    s.set_linewidth(2.6)
    s.set_color('black')

ax.tick_params(axis='y', which='major', direction='out', length=11, width=1.3, pad=19, labelsize=36)
ax.tick_params(axis='y', which='minor', direction='out', length=8, width=1.1)
ax.tick_params(axis='x', which='major', direction='out', length=12, width=1.1, pad=24, labelsize=37)

# axis titles
fig.text(53 / W, 1 - 397 / H, "solid PN at CVS  [#/cc]", rotation=90, ha='center', va='center',
         fontsize=33, fontweight='bold')
fig.text(1128 / W, 1 - 867 / H, "Time [s]", ha='center', va='center', fontsize=33, fontweight='bold')

# annotation
fig.text(1654 / W, 1 - 867 / H, "It has higher background", ha='center', va='center', fontsize=31)
ax.annotate("", xy=(2588, 3.5), xycoords='data',
            xytext=(1777 / W, 1 - 833 / H), textcoords='figure fraction',
            arrowprops=dict(arrowstyle='-|>', color='black', lw=1.6, mutation_scale=28,
                            shrinkA=0, shrinkB=0),
            annotation_clip=False)

# legend box
box = Rectangle((1580 / W, 1 - 274 / H), 397 / W, 266 / H, transform=fig.transFigure,
                facecolor='white', edgecolor='black', lw=1.3, zorder=5)
fig.add_artist(box)
handles = [Line2D([], [], color=c, lw=4.5, solid_capstyle='round') for c in series_colors]
leg = fig.legend(handles, series_labels, loc='center left', bbox_to_anchor=(1600 / W, 1 - 148 / H),
                 frameon=False, fontsize=38.5, handlelength=1.93, handletextpad=0.26,
                 labelspacing=0.48, borderpad=0, borderaxespad=0)
leg.set_zorder(6)

fig.savefig("out.png", dpi=100)
